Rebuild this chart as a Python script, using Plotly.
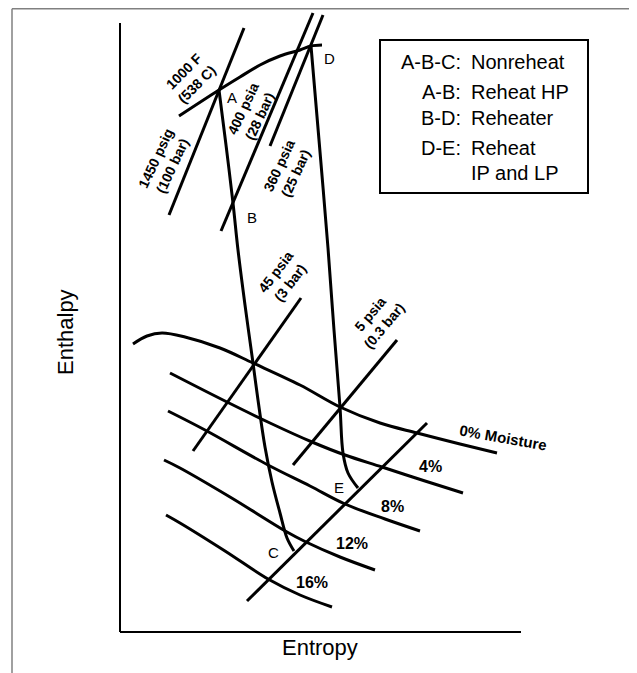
import plotly.graph_objects as go

# ---- Data (entropy s, enthalpy h; arbitrary schematic units) ----
# Expansion lines
abc_s = [99, 106, 113, 118, 125, 133, 138, 145, 152, 160, 167, 174]
abc_h = [542, 487, 429, 382, 327, 269, 232, 185, 150, 119, 94, 81]
de_s = [191, 199, 208, 214, 220, 223, 228, 238]
de_h = [586, 492, 384, 302, 225, 179, 159, 144]

# Constant temperature line 1000 F
t1000_s = [59, 99, 120, 140, 160, 180, 191, 202]
t1000_h = [516, 542, 555, 567, 576, 582, 586, 587]

# Constant pressure lines (end points)
p1450_s = [49, 124]
p1450_h = [417, 604]
p400_s = [101, 193]
p400_h = [401, 619]
p360_s = [150, 203]
p360_h = [486, 617]
p45_s = [181, 73]
p45_h = [334, 181]
p5_s = [277, 173]
p5_h = [292, 167]
pcond_s = [307, 127]
pcond_h = [209, 31]

# Constant moisture lines
m0_s = [13, 27, 42, 65, 100, 133, 180, 220, 260, 297, 340, 377]
m0_h = [288, 296, 299, 295, 284, 269, 247, 225, 209, 199, 188, 179]
m4_s = [50, 107, 150, 192, 225, 262, 305, 343]
m4_h = [259, 230, 209, 190, 177, 165, 151, 139]
m8_s = [48, 85, 148, 190, 225, 265, 300]
m8_h = [221, 202, 167, 146, 128, 113, 101]
m12_s = [44, 60, 110, 167, 186, 220, 255]
m12_h = [172, 164, 135, 100, 90, 75, 62]
m16_s = [46, 60, 105, 148, 180, 212]
m16_h = [117, 109, 81, 53, 37, 25]

# Labels
point_labels = ["A", "B", "C", "D", "E"]
point_s = [112, 132, 153, 209, 219]
point_h = [535, 415, 80, 574, 145]

moist_labels = ["0% Moisture", "4%", "8%", "12%", "16%"]
moist_s = [383, 310, 272, 232, 192]
moist_h = [195, 166, 126, 89, 50]
moist_ang = [10, 0, 0, 0, 0]
moist_size = [15, 16, 16, 16, 16]

line_labels = ["1000 F<br>(538 C)", "1450 psig<br>(100 bar)", "400 psia<br>(28 bar)",
               "360 psia<br>(25 bar)", "45 psia<br>(3 bar)", "5 psia<br>(0.3 bar)"]
line_lab_s = [70, 44, 131, 167, 163, 257]
line_lab_h = [554, 470, 519, 462, 355, 312]
line_lab_ang = [-45, -65, -65, -65, -53, -50]

legend_keys = ["A-B-C:", "A-B:", "B-D:", "D-E:", ""]
legend_vals = ["Nonreheat", "Reheat HP", "Reheater", "Reheat", "IP and LP"]
legend_h = [570, 540, 514, 484, 459]

FONT = "Arial, Liberation Sans, Helvetica, sans-serif"
LW = 3

fig = go.Figure()


def add_line(s, h, smooth=True):
    fig.add_trace(go.Scatter(
        x=s, y=h, mode="lines",
        line=dict(color="black", width=LW, shape="spline" if smooth else "linear"),
        hoverinfo="skip", showlegend=False))


for s, h in [(m0_s, m0_h), (m4_s, m4_h), (m8_s, m8_h), (m12_s, m12_h), (m16_s, m16_h)]:
    add_line(s, h)
for s, h in [(p1450_s, p1450_h), (p400_s, p400_h), (p360_s, p360_h),
             (p45_s, p45_h), (p5_s, p5_h), (pcond_s, pcond_h)]:
    add_line(s, h, smooth=False)
add_line(t1000_s, t1000_h)
add_line(abc_s, abc_h)
add_line(de_s, de_h)


def bold(t):
    return "<br>".join("<b>%s</b>" % p for p in t.split("<br>"))


ann = []
for t, s, h in zip(point_labels, point_s, point_h):
    ann.append(dict(x=s, y=h, text=t, showarrow=False, font=dict(size=15, color="black", family=FONT)))
for t, s, h, a, fs in zip(moist_labels, moist_s, moist_h, moist_ang, moist_size):
    ann.append(dict(x=s, y=h, text=bold(t), showarrow=False, textangle=a,
                    font=dict(size=fs, color="black", family=FONT)))
for t, s, h, a in zip(line_labels, line_lab_s, line_lab_h, line_lab_ang):
    ann.append(dict(x=s, y=h, text=bold(t), showarrow=False, textangle=a,
                    font=dict(size=14, color="black", family=FONT)))
for k, v, h in zip(legend_keys, legend_vals, legend_h):
    if k:
        ann.append(dict(x=343, y=h, text=k, showarrow=False, xanchor="right",
                        font=dict(size=20, color="black", family=FONT)))
    ann.append(dict(x=349, y=h, text=v, showarrow=False, xanchor="left",
                    font=dict(size=20, color="black", family=FONT)))

ann.append(dict(x=200, y=-15, text="Entropy", showarrow=False,
                font=dict(size=22, color="black", family=FONT)))
ann.append(dict(x=-55, y=300, text="Enthalpy", showarrow=False, textangle=-90,
                font=dict(size=22, color="black", family=FONT)))

# page has an 8 px body margin: figure is 629 x 665 and starts at (8, 8)
W, H = 629, 665
shapes = [
    # axes
    dict(type="line", x0=0, y0=0, x1=0, y1=609, line=dict(color="black", width=2)),
    dict(type="line", x0=0, y0=0, x1=401, y1=0, line=dict(color="black", width=2)),
    # legend box
    dict(type="rect", x0=260, y0=439, x1=468, y1=592, line=dict(color="black", width=2)),
    # outer frame
    dict(type="line", xref="paper", yref="paper", x0=4 / W, y0=0, x1=4 / W, y1=1 - 0.75 / H,
         line=dict(color="#808080", width=1.5)),
    dict(type="line", xref="paper", yref="paper", x0=4 / W, y0=1 - 0.75 / H, x1=626 / W, y1=1 - 0.75 / H,
         line=dict(color="#808080", width=1.5)),
    dict(type="line", xref="paper", yref="paper", x0=626 / W, y0=0, x1=626 / W, y1=1 - 0.75 / H,
         line=dict(color="#808080", width=1.5)),
]

fig.update_layout(
    width=W, height=H, autosize=False,
    margin=dict(l=0, r=0, t=0, b=0),
    paper_bgcolor="white", plot_bgcolor="white",
    xaxis=dict(range=[-112, 517], visible=False, fixedrange=True),
    yaxis=dict(range=[-41, 624], visible=False, fixedrange=True),
    annotations=ann, shapes=shapes, showlegend=False,
)

fig.write_html("out.html")
